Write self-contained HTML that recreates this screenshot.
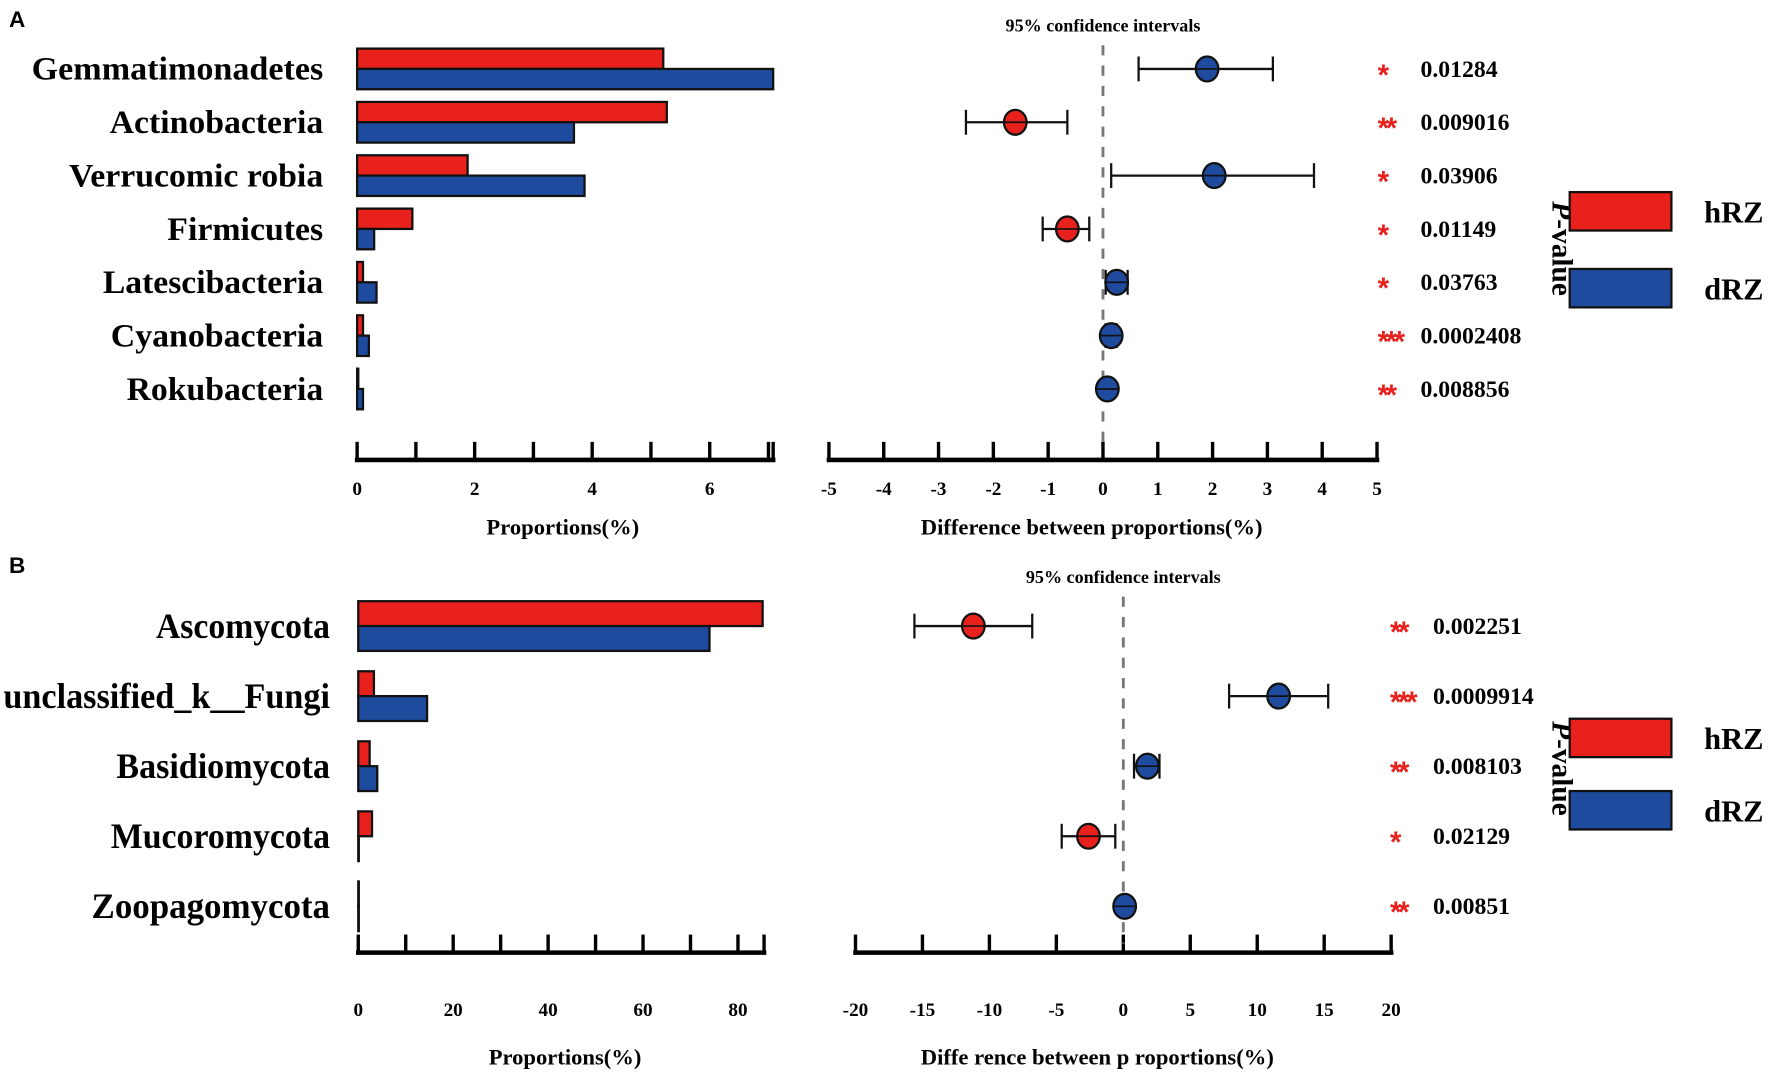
<!DOCTYPE html>
<html><head><meta charset="utf-8"><style>
html,body{margin:0;padding:0;background:#fff;}
svg{display:block;}
text{font-family:"Liberation Serif",serif;font-weight:bold;fill:#000;}
</style></head><body>
<svg id="chart" width="1772" height="1073" viewBox="0 0 1568 949.5" xmlns="http://www.w3.org/2000/svg">
<g id="root"></g>
</svg>
<script>
// Panel A data
const catsA = ["Gemmatimonadetes","Actinobacteria","Verrucomic robia","Firmicutes","Latescibacteria","Cyanobacteria","Rokubacteria"];
const hrzA = [5.21,5.27,1.88,0.94,0.1,0.1,0.02];
const drzA = [7.08,3.69,3.87,0.29,0.33,0.2,0.1];
const diffA = [1.9,-1.6,2.03,-0.65,0.25,0.15,0.08];
const loA = [0.65,-2.5,0.15,-1.1,0.05,0.05,0.0];
const hiA = [3.1,-0.65,3.85,-0.25,0.45,0.25,0.15];
const pA = ["0.01284","0.009016","0.03906","0.01149","0.03763","0.0002408","0.008856"];
const starsA = ["*","**","*","*","*","***","**"];
const propTicksA = [0,1,2,3,4,5,6,7];
const propLabelsA = ["0","","2","","4","","6",""];
const diffTicksA = [-5,-4,-3,-2,-1,0,1,2,3,4,5];
// Panel B data
const catsB = ["Ascomycota","unclassified_k__Fungi","Basidiomycota","Mucoromycota","Zoopagomycota"];
const hrzB = [85.2,3.3,2.4,2.9,0.1];
const drzB = [74,14.5,4,0.05,0.05];
const diffB = [-11.2,11.6,1.8,-2.6,0.1];
const loB = [-15.6,7.9,0.8,-4.6,-0.1];
const hiB = [-6.8,15.3,2.7,-0.6,0.3];
const pB = ["0.002251","0.0009914","0.008103","0.02129","0.00851"];
const starsB = ["**","***","**","*","**"];
const propTicksB = [0,10,20,30,40,50,60,70,80];
const propLabelsB = ["0","","20","","40","","60","","80"];
const diffTicksB = [-20,-15,-10,-5,0,5,10,15,20];

const NS="http://www.w3.org/2000/svg";
const root=document.getElementById('root');
function el(tag,attrs,parent){const e=document.createElementNS(NS,tag);for(const k in attrs)e.setAttribute(k,attrs[k]);(parent||root).appendChild(e);return e;}
function txt(s,attrs,parent){const e=el('text',attrs,parent);e.textContent=s;return e;}
const RED="#e8211c",BLUE="#1f4b9e";

function panel(cfg){
  const g=el('g',{});
  
  
  const xP=v=>cfg.p0+v*cfg.pScale;
  const xD=v=>cfg.d0+v*cfg.dScale;
  const yRow=i=>cfg.y0+i*cfg.step;
  const L=txt(cfg.letter,{x:8,y:cfg.letterY,'font-size':20,style:'font-family:"Liberation Sans",sans-serif'},g);
  
  
  cfg.cats.forEach((c,i)=>{
    const y=yRow(i);
    const t=txt(c,{x:cfg.labelX,y:y+cfg.labelFs*0.33,'font-size':cfg.labelFs,'text-anchor':'end',textLength:cfg.labelW[i],lengthAdjust:'spacingAndGlyphs'},g);
    
    
    const r=el('rect',{x:xP(0),y:y-cfg.bh,width:Math.max(cfg.hrz[i]*cfg.pScale,0.5),height:cfg.bh,fill:RED,stroke:'#111','stroke-width':2},g);
    
    
    const b=el('rect',{x:xP(0),y:y,width:Math.max(cfg.drz[i]*cfg.pScale,0.5),height:cfg.bh,fill:BLUE,stroke:'#111','stroke-width':2},g);
    
    
  });
  const ax=el('g',{},g);
  
  
  el('line',{x1:xP(0)-2,x2:xP(cfg.pMax)+2,y1:cfg.axY,y2:cfg.axY,stroke:'#000','stroke-width':4},ax);
  const pt=cfg.pTicks.concat([cfg.pMax]);
  pt.forEach(v=>el('line',{x1:xP(v),x2:xP(v),y1:cfg.axY,y2:cfg.axY-16,stroke:'#000','stroke-width':3},ax));
  cfg.pTicks.forEach((v,i)=>{if(cfg.pLabels[i])txt(cfg.pLabels[i],{x:xP(v),y:cfg.axY+cfg.tickOff,'font-size':17,'text-anchor':'middle'},ax);});
  const pt1=txt('Proportions(%)',{x:cfg.ptX,y:cfg.axY+cfg.titleOff,'font-size':20,'text-anchor':'middle'},g);
  
  
  const dx=el('g',{},g);
  
  
  const dmin=cfg.dTicks[0],dmax=cfg.dTicks[cfg.dTicks.length-1];
  el('line',{x1:xD(dmin)-2,x2:xD(dmax)+2,y1:cfg.axY,y2:cfg.axY,stroke:'#000','stroke-width':4},dx);
  cfg.dTicks.forEach(v=>{el('line',{x1:xD(v),x2:xD(v),y1:cfg.axY,y2:cfg.axY-16,stroke:'#000','stroke-width':3},dx);
    txt(String(v),{x:xD(v),y:cfg.axY+cfg.tickOff,'font-size':17,'text-anchor':'middle'},dx);});
  const dt=txt(cfg.dTitle,{x:cfg.dtX,y:cfg.axY+cfg.titleOff,'font-size':20,'text-anchor':'middle'},g);
  
  
  const ci=txt('95% confidence intervals',{x:xD(0),y:cfg.ciY,'font-size':16,'text-anchor':'middle'},g);
  
  
  const zl=el('line',{x1:xD(0),x2:xD(0),y1:cfg.ciY+12,y2:cfg.axY-8,stroke:'#777','stroke-width':2.5,'stroke-dasharray':'9,9'},g);
  
  
  cfg.diff.forEach((d,i)=>{
    const y=yRow(i);
    const e=el('g',{},g);
    
    
    el('line',{x1:xD(cfg.lo[i]),x2:xD(cfg.hi[i]),y1:y,y2:y,stroke:'#111','stroke-width':2},e);
    [cfg.lo[i],cfg.hi[i]].forEach(v=>el('line',{x1:xD(v),x2:xD(v),y1:y-11,y2:y+11,stroke:'#111','stroke-width':2},e));
    el('ellipse',{cx:xD(d),cy:y,rx:10,ry:11,fill:d<0?RED:BLUE,stroke:'#111','stroke-width':2},e);
    el('line',{x1:xD(d)-9,x2:xD(d)+9,y1:y,y2:y,stroke:'#111','stroke-width':1.5},e);
    const s=txt(cfg.stars[i],{x:cfg.starX,y:y+14,'font-size':26,style:'font-family:"Liberation Sans",sans-serif;fill:'+RED,'letter-spacing':'-3'},g);
    
    
    const p=txt(cfg.p[i],{x:cfg.pX,y:y+7,'font-size':21},g);
    
    
  });
  const lg=el('g',{},g);
  
  
  const pv=txt('',{transform:`translate(1374,${cfg.pvY}) rotate(90)`,'font-size':26,'text-anchor':'middle'},lg);
  const ts=document.createElementNS(NS,'tspan');ts.setAttribute('font-style','italic');ts.textContent='P';pv.appendChild(ts);
  pv.appendChild(document.createTextNode('-value'));
  
  
  [[RED,'hRZ',cfg.legY[0]],[BLUE,'dRZ',cfg.legY[1]]].forEach(([c,n,y])=>{
    const le=el('g',{},lg);
    
    
    el('rect',{x:1389,y:y,width:90,height:34,fill:c,stroke:'#111','stroke-width':2},le);
    txt(n,{x:1508,y:y+27,'font-size':27},le);
  });
}
panel({name:'panel-a',letter:'A',letterY:24,cats:catsA,hrz:hrzA,drz:drzA,diff:diffA,lo:loA,hi:hiA,p:pA,stars:starsA,
  labelW:[258,189,225,138,195,188,174],labelX:286,labelFs:29,
  p0:316,pScale:52,pMax:7.08,pTicks:propTicksA,pLabels:propLabelsA,
  d0:976,dScale:48.5,dTicks:diffTicksA,y0:61,step:47.2,bh:18,axY:407,tickOff:31,titleOff:66,ptX:498,dtX:966,
  dTitle:'Difference between proportions(%)',ciY:28,starX:1219,pX:1257,pvY:220,legY:[170,238]});
panel({name:'panel-b',letter:'B',letterY:507,cats:catsB,hrz:hrzB,drz:drzB,diff:diffB,lo:loB,hi:hiB,p:pB,stars:starsB,
  labelW:[154,289,189,194,211],labelX:292,labelFs:32,
  p0:317,pScale:4.2,pMax:85.5,pTicks:propTicksB,pLabels:propLabelsB,
  d0:994,dScale:11.85,dTicks:diffTicksB,y0:554,step:62,bh:22,axY:843,tickOff:56,titleOff:99,ptX:500,dtX:971,
  dTitle:'Diffe rence between p roportions(%)',ciY:516,starX:1230,pX:1268,pvY:680,legY:[636,700]});
</script>
</body></html>
